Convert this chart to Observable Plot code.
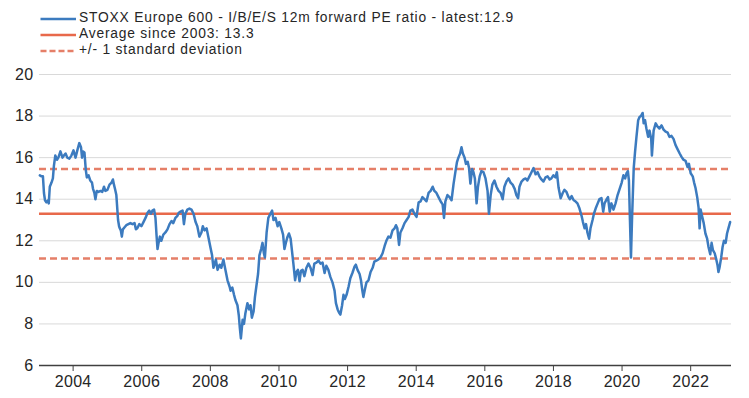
<!DOCTYPE html>
<html>
<head>
<meta charset="utf-8">
<script src="https://cdn.jsdelivr.net/npm/d3@7"></script>
<script src="https://cdn.jsdelivr.net/npm/@observablehq/plot@0.6"></script>
<style>
  html, body { margin: 0; padding: 0; background: #fff; }
  #wrap { position: relative; width: 749px; height: 398px; overflow: hidden; font-family: "Liberation Sans", Arial, sans-serif; color: #262626; }
  #legend { position: relative; width: 749px; height: 56px; }
  .row { position: absolute; left: 0; height: 16px; }
  .row svg { position: absolute; left: 0; top: 0; }
  .row span { position: absolute; left: 79px; top: 0; font-size: 13.8px; line-height: 16px; letter-spacing: 0.8px; white-space: nowrap; }
  #chart svg text { letter-spacing: 0.3px; }
</style>
</head>
<body>
<div id="wrap">
  <div id="legend"></div>
  <div id="chart"></div>
</div>
<script>
// ---- data ----
const years = [
2003.03,2003.08,2003.12,2003.15,2003.18,2003.22,2003.27,2003.29,2003.32,2003.37,2003.41,2003.44,2003.48,2003.53,2003.57,2003.63,2003.69,2003.73,2003.78,2003.83,2003.89,2003.95,
2004.01,2004.07,2004.13,2004.18,2004.23,2004.26,2004.29,2004.33,2004.37,2004.40,2004.45,2004.50,2004.55,2004.58,2004.62,2004.65,2004.69,2004.74,2004.80,2004.85,2004.90,2004.94,
2005.00,2005.06,2005.12,2005.16,2005.19,2005.22,2005.26,2005.31,2005.34,2005.36,2005.39,2005.42,2005.45,2005.50,2005.55,2005.61,2005.67,2005.73,2005.79,2005.83,2005.87,2005.93,2005.99,
2006.05,2006.11,2006.17,2006.22,2006.27,2006.31,2006.36,2006.40,2006.43,2006.46,2006.49,2006.53,2006.57,2006.63,2006.69,2006.75,2006.81,2006.87,2006.92,2006.98,
2007.04,2007.08,2007.13,2007.19,2007.23,2007.27,2007.33,2007.39,2007.45,2007.51,2007.57,2007.62,2007.68,2007.74,2007.78,2007.83,2007.89,2007.94,
2008.00,2008.05,2008.09,2008.13,2008.16,2008.21,2008.27,2008.32,2008.38,2008.44,2008.50,2008.56,2008.59,2008.64,2008.69,2008.73,2008.79,2008.83,2008.86,2008.89,2008.94,2008.98,
2009.02,2009.08,2009.13,2009.17,2009.21,2009.26,2009.30,2009.34,2009.39,2009.43,2009.48,2009.52,2009.56,2009.59,2009.64,2009.69,2009.75,2009.80,2009.84,2009.90,2009.96,
2010.01,2010.07,2010.12,2010.16,2010.20,2010.25,2010.29,2010.34,2010.38,2010.42,2010.47,2010.51,2010.55,2010.60,2010.64,2010.69,2010.74,2010.80,2010.86,2010.92,2010.98,
2011.03,2011.09,2011.15,2011.21,2011.27,2011.33,2011.38,2011.44,2011.50,2011.56,2011.62,2011.66,2011.71,2011.75,2011.79,2011.84,2011.88,2011.92,2011.97,
2012.03,2012.08,2012.14,2012.20,2012.24,2012.29,2012.35,2012.39,2012.43,2012.46,2012.51,2012.55,2012.61,2012.67,2012.73,2012.78,2012.84,2012.90,2012.96,
2013.02,2013.08,2013.13,2013.19,2013.25,2013.31,2013.37,2013.41,2013.45,2013.50,2013.54,2013.60,2013.66,2013.72,2013.78,2013.83,2013.89,2013.95,
2014.01,2014.07,2014.13,2014.18,2014.24,2014.30,2014.36,2014.42,2014.48,2014.53,2014.59,2014.65,2014.71,2014.77,2014.81,2014.85,2014.91,2014.97,
2015.03,2015.09,2015.15,2015.19,2015.23,2015.28,2015.32,2015.36,2015.41,2015.45,2015.50,2015.54,2015.58,2015.63,2015.67,2015.71,2015.76,2015.80,2015.85,2015.90,2015.96,
2016.02,2016.08,2016.12,2016.17,2016.22,2016.28,2016.34,2016.40,2016.46,2016.52,2016.57,2016.63,2016.69,2016.75,2016.81,2016.87,2016.92,2016.97,
2017.01,2017.07,2017.13,2017.19,2017.24,2017.30,2017.36,2017.42,2017.48,2017.54,2017.59,2017.65,2017.71,2017.77,2017.83,2017.89,2017.94,
2018.00,2018.06,2018.10,2018.15,2018.21,2018.27,2018.32,2018.38,2018.44,2018.48,2018.53,2018.59,2018.64,2018.70,2018.76,2018.82,2018.86,2018.91,2018.95,2018.99,
2019.04,2019.08,2019.14,2019.18,2019.23,2019.29,2019.34,2019.40,2019.45,2019.49,2019.55,2019.59,2019.64,2019.69,2019.75,2019.81,2019.87,2019.93,2019.99,
2020.04,2020.09,2020.13,2020.17,2020.20,2020.23,2020.26,2020.29,2020.34,2020.38,2020.42,2020.47,2020.51,2020.55,2020.60,2020.63,2020.67,2020.71,2020.76,2020.80,2020.85,2020.87,2020.92,2020.98,
2021.03,2021.09,2021.15,2021.21,2021.27,2021.33,2021.38,2021.44,2021.50,2021.56,2021.62,2021.68,2021.73,2021.79,2021.85,2021.91,2021.95,
2022.00,2022.06,2022.10,2022.14,2022.19,2022.23,2022.26,2022.29,2022.33,2022.38,2022.43,2022.48,2022.52,2022.57,2022.61,2022.65,2022.70,2022.74,2022.78,2022.81,2022.84,2022.89,2022.93,2022.97,
2023.02,2023.06,2023.10,2023.15
];
const pe = [
15.15,15.1,15.1,14.3,13.95,13.85,13.95,13.8,14.6,14.8,15.0,15.6,16.1,15.9,16.0,16.3,16.0,16.1,16.2,16.0,15.95,16.1,
16.35,16.0,16.4,16.7,16.5,16.0,16.3,16.25,15.4,15.05,15.15,14.9,14.8,14.5,14.3,14.0,14.4,14.35,14.4,14.35,14.6,14.4,
14.45,14.7,14.8,14.95,14.7,14.5,14.2,13.0,12.7,12.6,12.5,12.2,12.55,12.65,12.75,12.8,12.85,12.8,12.85,12.55,12.6,12.8,12.7,
12.9,13.1,13.35,13.45,13.3,13.45,13.5,13.1,12.3,11.6,11.9,12.2,12.0,12.3,12.4,12.55,12.8,12.95,12.85,13.1,
13.2,13.35,13.4,13.45,12.8,13.3,13.5,13.55,13.5,13.3,12.9,12.7,12.2,12.4,12.7,12.5,12.6,12.2,
11.7,11.3,10.7,10.9,11.1,10.6,10.85,10.7,11.1,10.6,10.1,9.8,9.6,9.75,9.4,9.15,8.9,8.4,7.8,7.3,8.2,8.0,
8.5,9.0,8.7,8.9,8.3,8.6,9.3,9.8,10.4,11.3,11.6,11.9,11.4,11.2,12.4,13.1,13.3,13.45,13.0,13.1,12.7,
12.9,12.6,12.3,11.6,11.9,12.2,12.35,12.1,11.5,10.9,10.1,10.5,10.6,10.05,10.55,10.6,10.3,10.7,10.9,10.7,10.35,
10.9,10.95,11.05,10.9,10.95,10.45,10.8,10.6,10.25,10.0,9.6,9.0,8.7,8.55,8.45,8.9,9.4,9.2,9.4,
9.8,10.2,10.45,10.75,10.85,10.6,10.4,10.1,9.6,9.3,9.7,10.0,10.1,10.5,10.7,11.0,11.05,11.1,11.2,
11.4,11.75,12.0,12.2,12.15,12.5,12.6,12.75,12.6,11.8,12.4,12.6,12.85,13.0,13.15,13.45,13.5,13.3,
13.15,13.85,13.9,14.1,14.0,13.9,14.3,14.4,14.6,14.4,14.3,14.1,13.9,13.75,13.1,13.9,14.2,14.1,
13.95,14.75,15.4,15.8,16.0,16.2,16.5,16.2,16.0,15.7,15.8,15.5,14.75,15.45,15.3,15.0,13.8,14.6,15.1,15.35,15.3,
15.0,14.4,13.3,14.2,14.7,14.9,14.6,14.4,14.3,14.0,14.6,14.85,15.0,14.8,14.7,14.5,14.2,14.05,
14.6,14.85,14.95,15.0,14.9,15.1,15.3,15.5,15.2,15.3,15.1,14.95,14.85,15.05,15.1,14.95,15.0,
15.15,15.05,15.3,14.55,14.05,14.3,14.45,14.35,14.1,14.0,14.15,13.95,13.9,13.8,13.55,13.2,12.9,12.6,12.8,12.4,
12.1,12.6,13.0,13.3,13.55,13.8,14.0,14.05,13.4,13.8,14.0,14.1,13.4,13.8,13.5,13.8,14.2,14.5,14.8,
15.15,15.0,15.25,15.35,14.9,13.0,11.2,13.0,15.5,16.3,17.0,17.8,17.95,18.0,18.15,17.65,17.8,17.4,17.0,17.3,16.9,16.1,17.3,17.65,
17.5,17.4,17.55,17.35,17.25,17.2,17.0,17.05,16.9,16.6,16.4,16.2,16.05,15.9,15.85,15.55,15.7,
15.25,15.1,14.8,14.55,14.1,13.6,12.6,13.5,13.2,12.85,12.35,12.1,11.7,11.35,11.9,11.55,11.4,11.15,10.85,10.5,10.7,11.2,11.7,12.0,
11.9,12.35,12.6,12.9
];
const average = 13.3;
const stdUpper = 15.45;
const stdLower = 11.15;
const xTicks = [2004, 2006, 2008, 2010, 2012, 2014, 2016, 2018, 2020, 2022];
const yTicks = [6, 8, 10, 12, 14, 16, 18, 20];
const legendLabels = [
  "STOXX Europe 600 - I/B/E/S 12m forward PE ratio - latest:12.9",
  "Average since 2003: 13.3",
  "+/- 1 standard deviation"
];

const BLUE = "#3c7bbf";
const RED = "#e8694b";
const RED_DASH = "#e57f68";

// ---- legend ----
const legend = document.getElementById("legend");
const swatches = [
  {stroke: BLUE, dash: null},
  {stroke: RED, dash: null},
  {stroke: RED_DASH, dash: "6,3"}
];
legendLabels.forEach((label, i) => {
  const row = document.createElement("div");
  row.className = "row";
  row.style.top = (9.5 + i * 16) + "px";
  row.style.width = "749px";
  const s = swatches[i];
  row.innerHTML = `<svg width="78" height="16"><line x1="40.5" x2="76" y1="9" y2="9" stroke="${s.stroke}" stroke-width="2.5" ${s.dash ? `stroke-dasharray="${s.dash}"` : ""}/></svg><span></span>`;
  row.querySelector("span").textContent = label;
  legend.appendChild(row);
});

// ---- chart ----
const data = years.map((y, i) => ({year: y, pe: pe[i]}));

const chart = Plot.plot({
  width: 749,
  height: 342,
  marginTop: 18,
  marginBottom: 33,
  marginLeft: 39,
  marginRight: 18,
  style: {fontFamily: "'Liberation Sans', Arial, sans-serif", fontSize: "16px", color: "#262626", background: "#fff"},
  x: {domain: [2003.02, 2023.19]},
  y: {domain: [6, 20]},
  marks: [
    Plot.gridY(yTicks.filter(v => v > 6), {stroke: "#d9d9d9", strokeOpacity: 1, strokeWidth: 1}),
    Plot.ruleY([average], {stroke: RED, strokeWidth: 2.5}),
    Plot.ruleY([stdUpper, stdLower], {stroke: RED_DASH, strokeWidth: 2.5, strokeDasharray: "7,4"}),
    Plot.line(data, {x: "year", y: "pe", stroke: BLUE, strokeWidth: 2.5, strokeLinejoin: "round"}),
    Plot.ruleY([6], {stroke: "#404040", strokeWidth: 1.5}),
    Plot.axisX({ticks: xTicks, tickFormat: d => String(d), tickSize: 6, tickPadding: 4, fontSize: 16, label: null, stroke: "#404040"}),
    Plot.axisY({ticks: yTicks, tickSize: 0, tickPadding: 6, fontSize: 16, label: null})
  ]
});
document.getElementById("chart").appendChild(chart);
</script>
</body>
</html>
